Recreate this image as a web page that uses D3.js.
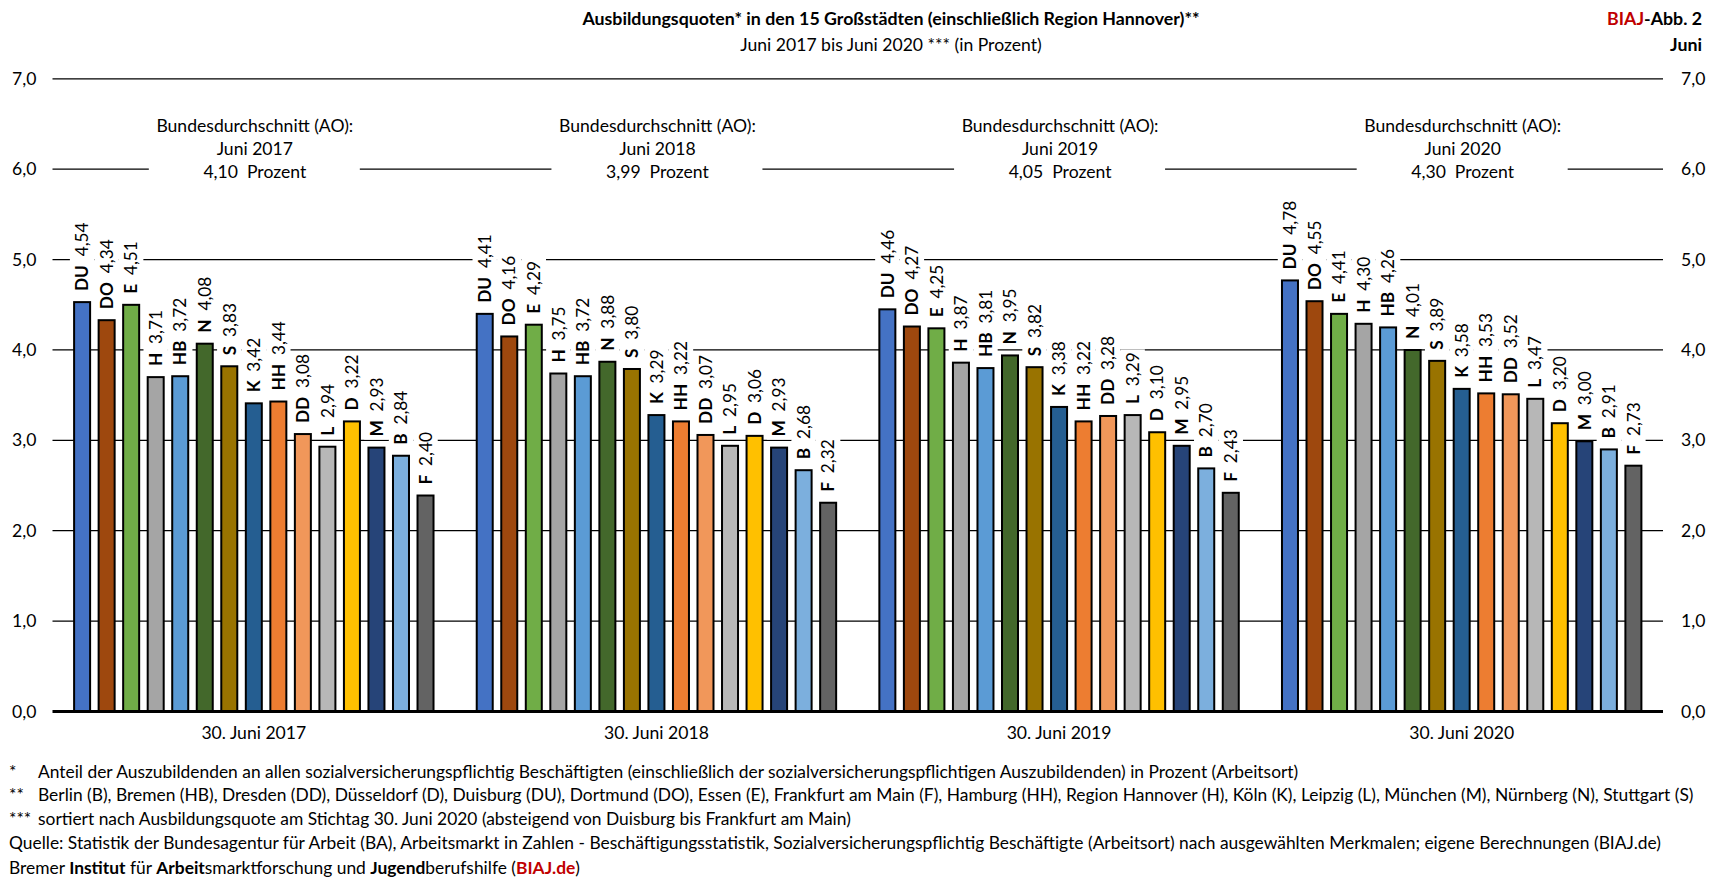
<!DOCTYPE html>
<html><head><meta charset="utf-8">
<script src="https://cdn.jsdelivr.net/npm/d3@7"></script>
<style>
body{margin:0;background:#fff}
svg{display:block}
text{font-family:Lato,"Open Sans",sans-serif;fill:#000}
</style>
</head><body>
<svg id="c" width="1716" height="888"></svg>
<script>
// ---------- data ----------
const groups = ["30. Juni 2017", "30. Juni 2018", "30. Juni 2019", "30. Juni 2020"];
const avgPeriods = ["Juni 2017", "Juni 2018", "Juni 2019", "Juni 2020"];
const avgValues = [4.10, 3.99, 4.05, 4.30];
const cities = ["DU","DO","E","H","HB","N","S","K","HH","DD","L","D","M","B","F"];
const cityColors = ["#4472C4","#9E480E","#70AD47","#A5A5A5","#5B9BD5","#43682B","#997300","#255E91","#ED7D31","#F1975A","#B7B7B7","#FFC000","#264478","#7CAFDD","#636363"];
const values2017 = [4.54,4.34,4.51,3.71,3.72,4.08,3.83,3.42,3.44,3.08,2.94,3.22,2.93,2.84,2.40];
const values2018 = [4.41,4.16,4.29,3.75,3.72,3.88,3.80,3.29,3.22,3.07,2.95,3.06,2.93,2.68,2.32];
const values2019 = [4.46,4.27,4.25,3.87,3.81,3.95,3.82,3.38,3.22,3.28,3.29,3.10,2.95,2.70,2.43];
const values2020 = [4.78,4.55,4.41,4.30,4.26,4.01,3.89,3.58,3.53,3.52,3.47,3.20,3.00,2.91,2.73];
const seriesByGroup = [values2017, values2018, values2019, values2020];
const yTicks = [0,1,2,3,4,5,6,7];

const titleText = "Ausbildungsquoten* in den 15 Großstädten (einschließlich Region Hannover)**";
const subtitleText = "Juni 2017 bis Juni 2020 *** (in Prozent)";
const footnotes = [
  ["*", "Anteil der Auszubildenden an allen sozialversicherungspflichtig Beschäftigten (einschließlich der sozialversicherungspflichtigen Auszubildenden) in Prozent (Arbeitsort)"],
  ["**", "Berlin (B), Bremen (HB), Dresden (DD), Düsseldorf (D), Duisburg (DU), Dortmund (DO), Essen (E), Frankfurt am Main (F), Hamburg (HH), Region Hannover (H), Köln (K), Leipzig (L), München (M), Nürnberg (N), Stuttgart (S)"],
  ["***", "sortiert nach Ausbildungsquote am Stichtag 30. Juni 2020 (absteigend von Duisburg bis Frankfurt am Main)"]
];
const sourceText = "Quelle: Statistik der Bundesagentur für Arbeit (BA), Arbeitsmarkt in Zahlen - Beschäftigungsstatistik, Sozialversicherungspflichtig Beschäftigte (Arbeitsort) nach ausgewählten Merkmalen; eigene Berechnungen (BIAJ.de)";
const creditParts = [["Bremer ","normal","#000"],["Institut","bold","#000"],[" für ","normal","#000"],["Arbeit","bold","#000"],["smarktforschung und ","normal","#000"],["Jugend","bold","#000"],["berufshilfe (","normal","#000"],["BIAJ.de","bold","#C00000"],[")","normal","#000"]];

// ---------- layout ----------
const svg = d3.select("#c");
const L = 52.5, R = 1663, Y0 = 711.4, Y7 = 78.8;
const fmt = v => d3.format(".2f")(v).replace(".", ",");
const fmt1 = v => d3.format(".1f")(v).replace(".", ",");

function measure(build) {
  const t = svg.append("text").attr("font-size", 100);
  build(t);
  const w = t.node().getComputedTextLength();
  t.remove();
  return w;
}
function fit(str, weight, target) {
  return 100 * target / measure(t => t.attr("font-weight", weight).text(str));
}
const fsAnn = fit("Bundesdurchschnitt (AO):", "normal", 197);
const fsTitle = fit(titleText, "bold", 618);
const fsFoot = fit(footnotes[0][1], "normal", 1261);
const fsLab = 100 * 68.7 / measure(t => {
  t.append("tspan").attr("font-weight","bold").text("DU");
  t.append("tspan").attr("font-weight","normal").text("\u00A0\u00A04,54");
});

const y = d3.scaleLinear().domain([0,7]).range([Y0, Y7]);
const x0 = d3.scaleBand().domain(groups).range([L, R]).padding(0);
const x1 = d3.scaleBand().domain(cities).range([0, x0.bandwidth()]).paddingInner(0.266).paddingOuter(0.84);
const color = d3.scaleOrdinal().domain(cities).range(cityColors);

// gridlines
svg.append("g").selectAll("line").data(yTicks.filter(d => d > 0)).join("line")
  .attr("x1", L).attr("x2", R).attr("y1", d => y(d)).attr("y2", d => y(d))
  .attr("stroke", "#000").attr("stroke-width", 1.3);

// axis tick labels (left and right)
const axL = svg.append("g").attr("transform", `translate(${L},0)`)
  .call(d3.axisLeft(y).tickValues(yTicks).tickFormat(fmt1).tickSize(0).tickPadding(16));
const axR = svg.append("g").attr("transform", `translate(${R},0)`)
  .call(d3.axisRight(y).tickValues(yTicks).tickFormat(fmt1).tickSize(0).tickPadding(18));
[axL, axR].forEach(a => {
  a.select(".domain").remove();
  a.selectAll("text").attr("font-size", fsAnn).attr("font-family", "Lato").attr("fill", "#222");
});

// average annotations
const ann = svg.append("g").selectAll("g").data(groups).join("g")
  .attr("transform", (d) => `translate(${x0(d) + x0.bandwidth()/2 + 1},0)`);
ann.append("rect").attr("x", -106).attr("width", 211).attr("y", 110).attr("height", 76).attr("fill", "#fff");
ann.append("text").attr("text-anchor","middle").attr("y",126).attr("dy","0.35em").attr("font-size",fsAnn)
  .attr("fill","#222").text("Bundesdurchschnitt (AO):");
ann.append("text").attr("text-anchor","middle").attr("y",149).attr("dy","0.35em").attr("font-size",fsAnn)
  .attr("fill","#222").text((d,i) => avgPeriods[i]);
ann.append("text").attr("text-anchor","middle").attr("y",172).attr("dy","0.35em").attr("font-size",fsAnn)
  .attr("fill","#222").text((d,i) => fmt(avgValues[i]) + "\u00A0\u00A0Prozent");

// bar data
const barData = [];
groups.forEach((g, gi) => cities.forEach((c, ci) => barData.push({g, c, v: seriesByGroup[gi][ci]})));
const bx = d => x0(d.g) + x1(d.c);
const bcx = d => bx(d) + x1.bandwidth()/2;

// labels (white boxes first, then bars, then text)
const labG = svg.append("g").selectAll("g").data(barData).join("g")
  .attr("transform", d => `translate(${bcx(d)},${y(d.v) - 10}) rotate(-90)`);
const labT = labG.append("text").attr("font-size", fsLab).attr("dy", "0.36em");
labT.append("tspan").attr("font-weight","bold").text(d => d.c);
labT.append("tspan").attr("font-weight","normal").text(d => "\u00A0\u00A0" + fmt(d.v));
labG.each(function() {
  const g = d3.select(this);
  const bb = g.select("text").node().getBBox();
  g.insert("rect", "text").attr("x", bb.x - 3).attr("y", -fsLab*0.36 - 6).attr("width", bb.width + 6)
    .attr("height", fsLab*0.72 + 12).attr("fill", "#fff");
});
// raise label text above everything later; bars drawn now
const bars = svg.append("g").selectAll("rect").data(barData).join("rect")
  .attr("x", d => bx(d) + 1).attr("width", x1.bandwidth() - 2)
  .attr("y", d => y(d.v) + 1).attr("height", d => y(0) - y(d.v) - 1)
  .attr("fill", d => color(d.c)).attr("stroke", "#000").attr("stroke-width", 2);

// zero line
svg.append("line").attr("x1", L).attr("x2", R).attr("y1", y(0)).attr("y2", y(0))
  .attr("stroke", "#000").attr("stroke-width", 3);

// category labels
svg.append("g").selectAll("text").data(groups).join("text")
  .attr("x", d => x0(d) + x0.bandwidth()/2).attr("y", 733).attr("dy","0.35em")
  .attr("text-anchor","middle").attr("font-size", fsAnn).attr("fill","#222").text(d => d);

// title
svg.append("text").attr("x", 891).attr("y", 19).attr("dy","0.35em").attr("text-anchor","middle")
  .attr("font-weight","bold").attr("font-size", fsTitle).text(titleText);
svg.append("text").attr("x", 891).attr("y", 45).attr("dy","0.35em").attr("text-anchor","middle")
  .attr("font-size", fsAnn).attr("fill","#222").text(subtitleText);
const hdr = svg.append("text").attr("x", 1702).attr("y", 19).attr("dy","0.35em").attr("text-anchor","end")
  .attr("font-weight","bold").attr("font-size", fsTitle);
hdr.append("tspan").attr("fill","#C00000").text("BIAJ");
hdr.append("tspan").text("-Abb. 2");
svg.append("text").attr("x", 1702).attr("y", 45).attr("dy","0.35em").attr("text-anchor","end")
  .attr("font-weight","bold").attr("font-size", fsTitle).text("Juni");

// footnotes
const footY = [771.5, 794.5, 818.6, 842.7, 867.5];
footnotes.forEach((f, i) => {
  svg.append("text").attr("x", 9).attr("y", footY[i]).attr("dy","0.35em").attr("font-size", fsFoot).text(f[0]);
  svg.append("text").attr("x", 38).attr("y", footY[i]).attr("dy","0.35em").attr("font-size", fsFoot).text(f[1]);
});
svg.append("text").attr("x", 9).attr("y", footY[3]).attr("dy","0.35em").attr("font-size", fsFoot).text(sourceText);
const cr = svg.append("text").attr("x", 9).attr("y", footY[4]).attr("dy","0.35em").attr("font-size", fsFoot);
creditParts.forEach(p => cr.append("tspan").attr("font-weight", p[1]).attr("fill", p[2]).text(p[0]));
</script>
</body></html>
